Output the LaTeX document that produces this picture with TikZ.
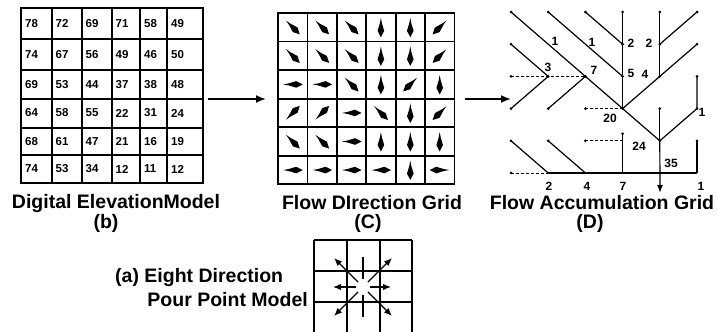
\documentclass[tikz,border=0pt]{standalone}
\usepackage{fontspec}
\setmainfont{Liberation Sans}
\usetikzlibrary{positioning, arrows.meta, calc}

\begin{document}
\begin{tikzpicture}[
    x=1pt, y=-1pt,
    cellnum/.style={font=\fontsize{11.5}{11.5}\selectfont\bfseries, inner sep=0pt},
    accnum/.style={font=\fontsize{12}{12}\selectfont\bfseries, inner sep=0pt},
    caption text/.style={font=\fontsize{19.5}{21}\selectfont\bfseries, inner sep=0pt},
    grid line/.style={line width=2pt, line cap=rect},
    flow/.style={line width=1.2pt},
    flat flow/.style={line width=0.8pt, densely dashed},
    panel arrow/.style={line width=1.8pt, -{Latex[length=10pt,width=8pt]}},
    pour/.style={line width=1.3pt, -{Latex[length=8pt,width=6.5pt]}}
    ]
    \useasboundingbox (0,0) rectangle (718,332);

    % --- LEFT PANEL: Digital Elevation Model ---
    \foreach \gx in {21,51.5,81.5,111.5,140,167,203}
        \draw[grid line] (\gx,8) -- (\gx,183);
    \foreach \gy in {8,39,70,98.5,127.5,155,183}
        \draw[grid line] (21,\gy) -- (203,\gy);

    \foreach \row/\vals in {0/{78,72,69,71,58,49}, 1/{74,67,56,49,46,50},
                            2/{69,53,44,37,38,48}, 3/{64,58,55,22,31,24},
                            4/{68,61,47,21,16,19}, 5/{74,53,34,12,11,12}} {
        \foreach \v [count=\col from 0] in \vals {
            \pgfmathsetmacro\lx{{21,51.5,81.5,111.5,140,167}[\col]}
            \pgfmathsetmacro\cy{{23.5,54.5,84.25,113,141.25,169}[\row]}
            \node[cellnum, anchor=west] (dem-\col-\row) at (\lx+4,\cy) {\v};
        }
    }
    \node[caption text] (demcap) at (116,203) {Digital ElevationModel};
    \node[caption text] (demsub) at (106,223) {(b)};

    % --- ARROW: DEM to flow direction ---
    \coordinate (demE) at (208,99);
    \coordinate (fdW) at (266,99);
    \draw[panel arrow] (demE) -- (fdW);

    % --- MIDDLE PANEL: Flow Direction Grid ---
    \foreach \i in {0,...,6} {
        \draw[grid line, line width=1.8pt] (278+29.4*\i,13) -- (278+29.4*\i,184.3);
        \draw[grid line, line width=1.8pt] (278,13+28.55*\i) -- (454.4,13+28.55*\i);
    }
    % 0=E 45=SE 90=S 135=SW 180=W 315=NE
    \foreach \row/\dirs in {0/{45,45,45,90,90,135}, 1/{45,45,45,90,90,135},
                            2/{0,0,45,90,135,90}, 3/{315,315,0,45,90,135},
                            4/{45,45,0,90,90,90}, 5/{0,0,0,0,90,180}} {
        \foreach \ang [count=\col from 0] in \dirs {
            \coordinate (fd-\col-\row) at (278+29.4*\col+14.7, 13+28.55*\row+14.3);
            \fill ($(fd-\col-\row)+(\ang:10)$)
                -- ($(fd-\col-\row)+(\ang:3.5)+(\ang+90:3.3)$)
                -- ($(fd-\col-\row)+(\ang+180:4)+(\ang+90:1)$)
                -- ($(fd-\col-\row)+(\ang+180:9.5)$)
                -- ($(fd-\col-\row)+(\ang+180:4)+(\ang-90:1)$)
                -- ($(fd-\col-\row)+(\ang:3.5)+(\ang-90:3.3)$) -- cycle;
        }
    }
    \node[caption text] (fdcap) at (372,203) {Flow DIrection Grid};
    \node[caption text] (fdsub) at (368,223) {(C)};

    % --- ARROW: flow direction to accumulation ---
    \coordinate (fdE) at (465,99);
    \coordinate (faW) at (511,99);
    \draw[panel arrow] (fdE) -- (faW);

    % --- RIGHT PANEL: Flow Accumulation Grid ---
    \foreach \c in {0,...,5}
        \foreach \r in {0,...,5}
            \coordinate (fa-\c-\r) at (511+37.2*\c, 12+32.2*\r);

    \draw[flow] (fa-0-0) -- (fa-4-4);
    \draw[flow] (fa-1-0) -- (fa-3-2);
    \draw[flow] (fa-2-0) -- (fa-3-1);
    \draw[flow] (fa-3-0) -- (fa-3-3);
    \draw[flow] (fa-4-0) -- (fa-4-2);
    \draw[flow] (fa-5-0) -- (fa-4-1);
    \draw[flow] (fa-5-1) -- (fa-3-3);
    \draw[flow] (fa-0-1) -- (fa-1-2);
    \draw[flat flow] (fa-0-2) -- (fa-2-2);
    \draw[flow] (fa-0-3) -- (fa-1-2);
    \draw[flow] (fa-1-3) -- (fa-2-2);
    \draw[flat flow] (fa-2-3) -- (fa-3-3);
    \draw[flow] (fa-5-2) -- (fa-5-3) -- (fa-4-4);
    \draw[flow] (fa-4-3) -- (fa-4-4);
    \coordinate (outlet) at (660,193);
    \draw[flow, -{Latex[length=8pt,width=6pt]}] (fa-4-4) -- (outlet);
    \draw[flat flow] (fa-2-4) -- (fa-3-4);
    \draw[flow] ($(fa-3-4)+(0,-7)$) -- (fa-3-5);
    \draw[flow] (fa-0-4) -- (fa-1-5);
    \draw[flow] (fa-1-4) -- (fa-2-5);
    \draw[flat flow] (fa-0-5) -- (fa-1-5);
    \draw[flow] (fa-1-5) -- (fa-5-5);
    \draw[flow] (fa-5-4) -- (fa-5-5);

    \foreach \p in {0-0,1-0,2-0,3-0,4-0,5-0,0-1,5-1,3-1,4-1,1-2,2-2,3-2,4-2,
                    0-2,5-2,0-3,1-3,2-3,3-3,4-3,5-3,4-4,0-4,1-4,2-4,5-4,0-5}
        \fill (fa-\p) circle (1.5);
    \fill ($(fa-3-4)+(0,-7)$) circle (1.5);

    \node[accnum] (acc-a) at (555,41) {1};
    \node[accnum] (acc-b) at (592,42) {1};
    \node[accnum] (acc-c) at (631,43) {2};
    \node[accnum] (acc-d) at (649,43) {2};
    \node[accnum] (acc-e) at (548,67) {3};
    \node[accnum] (acc-f) at (594,70) {7};
    \node[accnum] (acc-g) at (631,73) {5};
    \node[accnum] (acc-h) at (645,74) {4};
    \node[accnum] (acc-i) at (610,118) {20};
    \node[accnum] (acc-j) at (702,112) {1};
    \node[accnum] (acc-k) at (639,146) {24};
    \node[accnum] (acc-l) at (671,163) {35};
    \node[accnum] (acc-m) at (549,186) {2};
    \node[accnum] (acc-n) at (587,186) {4};
    \node[accnum] (acc-o) at (623,186) {7};
    \node[accnum] (acc-p) at (701,186) {1};

    \node[caption text] (facap) at (602,203) {Flow Accumulation Grid};
    \node[caption text] (fasub) at (590,223) {(D)};

    % --- BOTTOM: Eight Direction Pour Point Model ---
    \node[caption text, anchor=west] (pourA) at (115,277) {(a) Eight Direction};
    \node[caption text, anchor=east] (pourB) at (308,300) {Pour Point Model};

    \foreach \gx in {314,347,380,412}
        \draw[line width=1.5pt] (\gx,240) -- (\gx,332);
    \foreach \gy in {240,271,302}
        \draw[line width=1.5pt] (314,\gy) -- (412,\gy);

    \coordinate (pc) at (363,287);
    \foreach \ang/\len in {0/28,180/30,45/41,135/41,225/41,315/41}
        \draw[pour] ($(pc)+(\ang:7)$) -- ($(pc)+(\ang:\len)$);
    \foreach \ang in {90,270}
        \draw[line width=1.3pt] ($(pc)+(\ang:8)$) -- ($(pc)+(\ang:30)$);
\end{tikzpicture}
\end{document}
